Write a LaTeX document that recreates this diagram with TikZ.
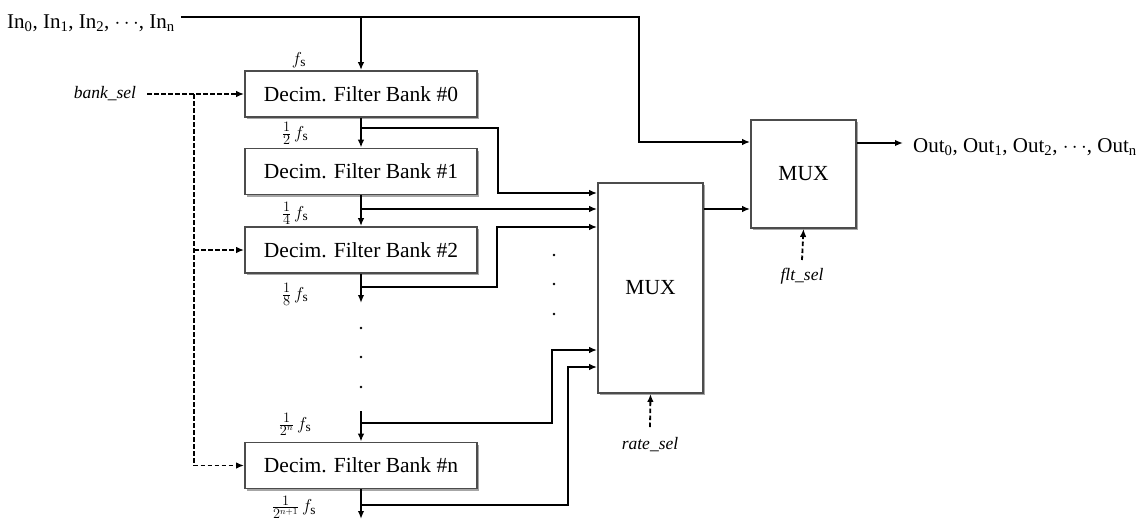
\documentclass[tikz,border=0pt]{standalone}
\usepackage{fontspec}
\setmainfont{Liberation Serif}
\usetikzlibrary{arrows.meta,shadows,calc}
\begin{document}
\begin{tikzpicture}[x=1pt,y=-1pt,
  box/.style={draw=black!70, line width=1.8pt, fill=white,
    drop shadow={shadow xshift=1.8pt,shadow yshift=-2pt,fill=black!50,opacity=0.7},
    font=\fontsize{21.5}{24}\selectfont, inner sep=0pt},
  bank/.style={box, minimum width=232pt, minimum height=46pt},
  wire/.style={line width=1.8pt},
  arr/.style={wire,-{Latex[length=8pt,width=6.5pt]}},
  sel/.style={line width=1.8pt, dash pattern=on 4.5pt off 2.5pt, -{Latex[length=8pt,width=6.5pt]}},
  lab/.style={font=\fontsize{17.5}{20}\selectfont\itshape, inner sep=3pt},
  rate/.style={font=\fontsize{19}{22}\selectfont, inner sep=0pt},
  io/.style={font=\fontsize{21}{24}\selectfont, inner sep=0pt},
  dot/.style={circle, fill=black, inner sep=0pt, minimum size=2.8pt}
]
\useasboundingbox (0,0) rectangle (1147,520);

% input / output texts
\node[io, anchor=base west] (in) at (7,28) {In\textsubscript{0}, In\textsubscript{1}, In\textsubscript{2}, $\cdots$, In\textsubscript{n}};
\node[io, anchor=base west] (out) at (913,152) {Out\textsubscript{0}, Out\textsubscript{1}, Out\textsubscript{2}, $\cdots$, Out\textsubscript{n}};

% filter banks
\node[bank] (b0) at (361,94) {Decim. Filter Bank \#0};
\node[bank] (b1) at (361,171.5) {Decim. Filter Bank \#1};
\node[bank] (b2) at (361,250) {Decim. Filter Bank \#2};
\node[bank] (bn) at (361,465.5) {Decim. Filter Bank \#n};

% multiplexers
\node[box, minimum width=105pt, minimum height=210pt] (mux1) at (650.5,288) {MUX};
\node[box, minimum width=105pt, minimum height=108pt] (mux2) at (803.5,174) {MUX};

% select labels
\node[lab] (bs) at (105,94) {bank\_sel};
\node[lab] (rs) at (650,445) {rate\_sel};
\node[lab] (fls) at (802,276) {flt\_sel};

% rate labels
\node[rate] (r0) at (299,60) {$f_{\mathrm{s}}$};
\node[rate] (r1) at (295,133) {$\frac{1}{2}\,f_{\mathrm{s}}$};
\node[rate] (r2) at (295,213) {$\frac{1}{4}\,f_{\mathrm{s}}$};
\node[rate] (r3) at (295,294) {$\frac{1}{8}\,f_{\mathrm{s}}$};
\node[rate] (rn) at (295,424) {$\frac{1}{2^{n}}\,f_{\mathrm{s}}$};
\node[rate] (rn1) at (294,507) {$\frac{1}{2^{n+1}}\,f_{\mathrm{s}}$};

% junction coordinates
\coordinate (j0) at (b0.north |- 0,17);
\coordinate (k2) at (361,303);
\coordinate (kn) at (361,411);
\coordinate (kend) at (361,519);

% input line
\draw[arr] (in.east |- 0,17) ++(6,0) -- (639,17) -- (639,142) -- (mux2.west |- 0,142);
\draw[arr] (j0) -- (b0.north);

% chain
\draw[arr] (b0.south) -- (b1.north);
\draw[arr] (b1.south) -- (b2.north);
\draw[arr] (b2.south) -- (k2);
\node[dot] (d1) at (361,328) {};
\node[dot] (d2) at (361,357) {};
\node[dot] (d3) at (361,387) {};
\draw[arr] (kn) -- (bn.north);
\draw[arr] (bn.south) -- (kend);

% branches into MUX
\draw[arr] (361,128) -- (498,128) -- (498,193) -- (mux1.west |- 0,193);
\draw[arr] (361,209) -- (mux1.west |- 0,209);
\draw[arr] (361,287) -- (497,287) -- (497,227) -- (mux1.west |- 0,227);
\draw[arr] (361,423) -- (552,423) -- (552,350) -- (mux1.west |- 0,350);
\draw[arr] (361,505) -- (568,505) -- (568,367) -- (mux1.west |- 0,367);
\node[dot] (e1) at (554,255) {};
\node[dot] (e2) at (554,284) {};
\node[dot] (e3) at (554,314) {};

% MUX outputs
\draw[arr] (mux1.east |- 0,209) -- (mux2.west |- 0,209);
\draw[arr] (mux2.east |- 0,143) -- ($(out.west |- 0,143)+(-10,0)$);

% select lines
\draw[sel] (bs.east) ++(8,0) -- (b0.west);
\draw[sel] (194,94) |- (bn.west);
\draw[sel] (194,250) -- (b2.west);
\draw[sel] (650,427) -- (mux1.south);
\draw[sel] (802,260) -- (mux2.south);
\end{tikzpicture}
\end{document}
